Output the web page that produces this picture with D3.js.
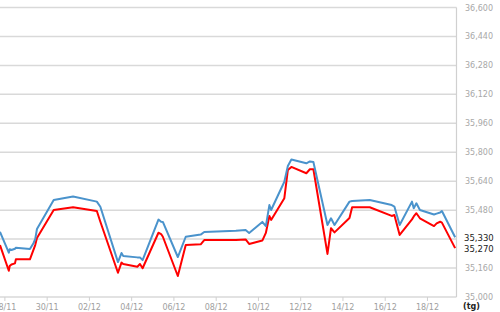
<!DOCTYPE html>
<html>
<head>
<meta charset="utf-8">
<script src="https://cdn.jsdelivr.net/npm/d3@7"></script>
<style>
    body { margin: 0; background: #fff; }
    text { font-family: "DejaVu Sans", Verdana, sans-serif; }
</style>
</head>
<body>
<div id="chart"></div>
<script>

const year = 2013;

const dates = ["27/11 19:00","28/11 05:00","28/11 06:00","28/11 08:00","28/11 12:00","28/11 13:00","29/11 05:00","29/11 09:00","29/11 11:00","29/11 13:00",
    "30/11 08:00","01/12 06:00","02/12 09:00","02/12 13:00","03/12 09:00","03/12 13:00","03/12 15:00","04/12 07:00","04/12 10:00","04/12 13:00",
    "05/12 07:00","05/12 10:00","05/12 12:00","06/12 05:00","06/12 14:00","07/12 07:00","07/12 11:00","08/12 23:00","09/12 10:00","09/12 14:00",
    "10/12 05:00","10/12 09:00","10/12 13:00","10/12 15:00","11/12 06:00","11/12 10:00","11/12 14:00","12/12 07:00","12/12 11:00","12/12 15:00",
    "13/12 07:00","13/12 11:00","13/12 15:00","14/12 08:00","14/12 11:00","15/12 07:00","16/12 08:00","16/12 11:00","16/12 17:00","17/12 07:00",
    "17/12 09:00","17/12 12:00","17/12 16:00","18/12 08:00","18/12 11:00","18/12 15:00","18/12 17:00","19/12 08:00"];

const buy = [35360,35245,35264,35260,35267,35272,35265,35297,35320,35376,
    35536,35555,35527,35499,35193,35243,35227,35219,35219,35204,
    35428,35416,35415,35221,35333,35345,35359,35366,35370,35354,
    35415,35392,35508,35481,35637,35724,35760,35739,35749,35746,
    35398,35435,35398,35527,35531,35536,35508,35500,35398,35527,
    35490,35518,35481,35456,35461,35467,35475,35330];

const sell = [35287,35145,35171,35180,35186,35208,35208,35260,35287,35326,
    35481,35496,35475,35416,35134,35190,35182,35167,35182,35159,
    35355,35348,35333,35116,35287,35291,35315,35315,35318,35293,
    35312,35354,35448,35426,35546,35702,35719,35684,35706,35706,
    35238,35380,35357,35437,35496,35496,35448,35453,35343,35429,
    35445,35463,35435,35392,35407,35416,35411,35270];

const yTicks = [35000,35160,35320,35480,35640,35800,35960,36120,36280,36440,36600];
const xTicks = ["28/11","30/11","02/12","04/12","06/12","08/12","10/12","12/12","14/12","16/12","18/12"];
const lastLabels = [35330, 35270];
const unit = "(tg)";

const width = 500, height = 312;
const plotRight = 456.5, plotTop = 7.5, plotBottom = 297;

const parse = d3.timeParse("%d/%m %H:%M %Y");
const parseDay = d3.timeParse("%d/%m %Y");
const fmt = d3.format(",");

const svg = d3.select("#chart")
    .append("svg")
    .attr("width", width)
    .attr("height", height);

const x = d3.scaleTime()
    .domain([parse("27/11 19:00 " + year), parse("19/12 09:00 " + year)])
    .range([0, 456]);

const y = d3.scaleLinear()
    .domain([35000, 36600])
    .range([plotBottom, plotTop]);

// grid lines
svg.append("g")
    .selectAll("line")
    .data(yTicks)
    .enter()
    .append("line")
        .attr("x1", 0)
        .attr("x2", plotRight)
        .attr("y1", d => y(d))
        .attr("y2", d => y(d))
        .attr("stroke", "#d9d9d9")
        .attr("stroke-width", 1.5);

svg.append("line")
    .attr("x1", plotRight).attr("x2", plotRight)
    .attr("y1", plotTop).attr("y2", plotBottom)
    .attr("stroke", "#d0d0d0")
    .attr("stroke-width", 1.2);

// y labels on the right, current values replace the one they cover
svg.append("g")
    .selectAll("text")
    .data(yTicks.filter(t => !lastLabels.some(v => Math.abs(v - t) < 40)))
    .enter()
    .append("text")
        .attr("x", 465)
        .attr("y", d => y(d) + 3)
        .text(d => fmt(d))
        .attr("font-size", "8px")
        .attr("fill", "#a8a8a8");

svg.append("g")
    .selectAll("text")
    .data(lastLabels)
    .enter()
    .append("text")
        .attr("x", 464)
        .attr("y", d => y(d) + 3.5)
        .text(d => fmt(d))
        .attr("font-size", "8.5px")
        .attr("fill", "#222");

svg.append("text")
    .attr("x", 463)
    .attr("y", 309)
    .text(unit)
    .attr("font-size", "8px")
    .attr("font-weight", "bold")
    .attr("fill", "#222");

// x axis
const xAxis = d3.axisBottom(x)
    .tickValues(xTicks.map(d => parseDay(d + " " + year)))
    .tickFormat(d3.timeFormat("%d/%m"))
    .tickSize(4)
    .tickPadding(3);

const gx = svg.append("g")
    .attr("transform", `translate(0, ${plotBottom})`)
    .call(xAxis);

gx.select(".domain").remove();
gx.selectAll("line").attr("stroke", "#d0d0d0");
gx.selectAll("text")
    .attr("font-size", "8px")
    .attr("fill", "#a0a0a0")
    .attr("font-family", "DejaVu Sans, Verdana, sans-serif");

// series
const points = dates.map((d, i) => ({ date: parse(d + " " + year), buy: buy[i], sell: sell[i] }));

const lineBuy = d3.line().x(d => x(d.date)).y(d => y(d.buy));
const lineSell = d3.line().x(d => x(d.date)).y(d => y(d.sell));

svg.append("path")
    .datum(points)
    .attr("d", lineSell)
    .attr("fill", "none")
    .attr("stroke", "#ff0000")
    .attr("stroke-width", 2)
    .attr("stroke-linejoin", "round");

svg.append("path")
    .datum(points)
    .attr("d", lineBuy)
    .attr("fill", "none")
    .attr("stroke", "#4a93cc")
    .attr("stroke-width", 2)
    .attr("stroke-linejoin", "round");

</script>
</body>
</html>
